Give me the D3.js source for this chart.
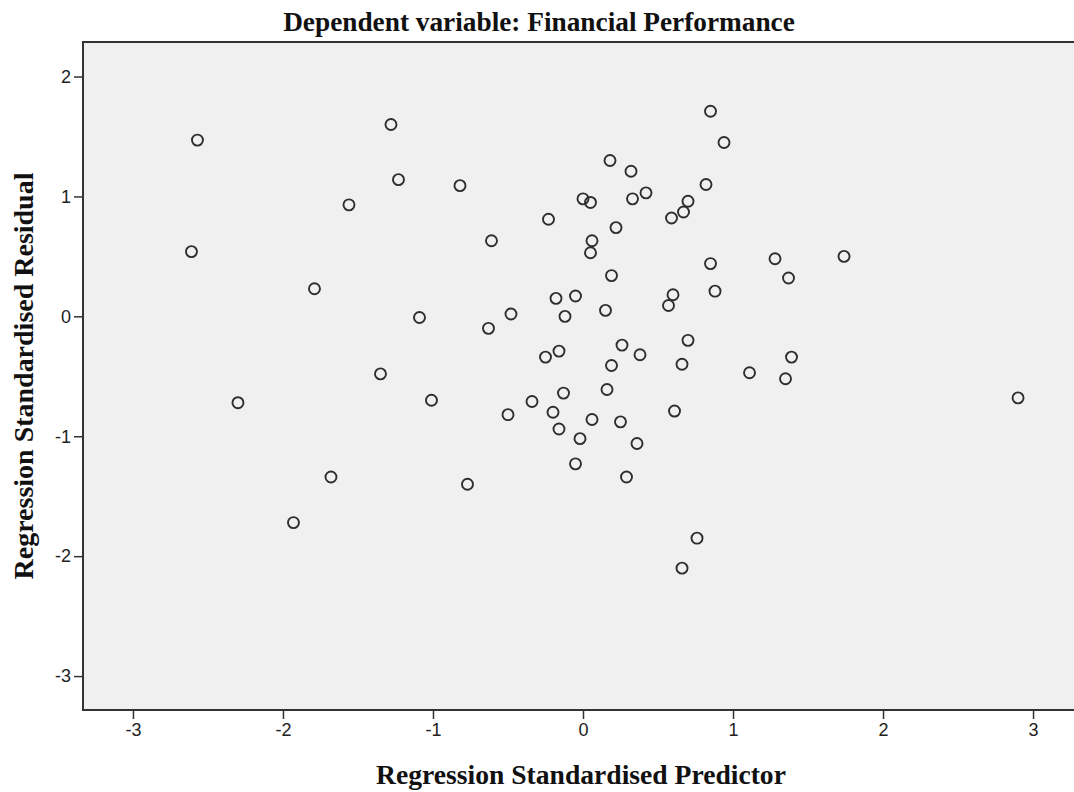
<!DOCTYPE html>
<html>
<head>
<meta charset="utf-8">
<script src="https://cdn.jsdelivr.net/npm/d3@7"></script>
<style>
    body { margin: 0; background: #fff; }
    .tick text { font-family: "Liberation Sans", Arial, sans-serif; font-size: 18px; fill: #222; }
    .tick line { stroke: #333; stroke-width: 1.5; }
    .chart-title, .axis-title { font-family: "Liberation Serif", "Times New Roman", serif; font-weight: bold; fill: #111; }
</style>
</head>
<body>
<div id="chart"></div>
<script>
// Regression standardised predictor (x) and residual (y) for each case
const predictorValues = [
    -2.57, -2.61, -2.30, -1.93, -1.79, -1.68, -1.56, -1.35, -1.28, -1.23,
    -1.09, -1.01, -0.82, -0.77, -0.61, -0.63, -0.48, -0.50, -0.34, -0.25,
    -0.23, -0.20, -0.18, -0.16, -0.16, -0.12, -0.13, -0.05, -0.05, -0.02,
    0.00, 0.05, 0.06, 0.05, 0.06, 0.15, 0.16, 0.18, 0.19, 0.19,
    0.22, 0.26, 0.25, 0.29, 0.32, 0.33, 0.36, 0.38, 0.42, 0.57,
    0.59, 0.60, 0.61, 0.67, 0.66, 0.66, 0.70, 0.70, 0.76, 0.82,
    0.85, 0.85, 0.88, 0.94, 1.11, 1.28, 1.35, 1.37, 1.39, 1.74,
    2.90
];
const residualValues = [
    1.47, 0.54, -0.72, -1.72, 0.23, -1.34, 0.93, -0.48, 1.60, 1.14,
    -0.01, -0.70, 1.09, -1.40, 0.63, -0.10, 0.02, -0.82, -0.71, -0.34,
    0.81, -0.80, 0.15, -0.29, -0.94, 0.00, -0.64, 0.17, -1.23, -1.02,
    0.98, 0.95, 0.63, 0.53, -0.86, 0.05, -0.61, 1.30, 0.34, -0.41,
    0.74, -0.24, -0.88, -1.34, 1.21, 0.98, -1.06, -0.32, 1.03, 0.09,
    0.82, 0.18, -0.79, 0.87, -0.40, -2.10, 0.96, -0.20, -1.85, 1.10,
    1.71, 0.44, 0.21, 1.45, -0.47, 0.48, -0.52, 0.32, -0.34, 0.50,
    -0.68
];
const xTickValues = [-3, -2, -1, 0, 1, 2, 3];
const yTickValues = [2, 1, 0, -1, -2, -3];
const chartTitle = 'Dependent variable: Financial Performance';
const xTitle = 'Regression Standardised Predictor';
const yTitle = 'Regression Standardised Residual';

class ResidualScatter {
    constructor(_config) {
        this.config = {
            parentElement: _config.parentElement,
            containerWidth: 1074,
            containerHeight: 792,
            margin: {top: 42, right: -9, bottom: 82, left: 83}
        }
        this.data = predictorValues.map((x, i) => ({x: x, y: residualValues[i]}));
        this.initVis();
    }

    initVis() {
        let vis = this;

        vis.width = vis.config.containerWidth - vis.config.margin.left - vis.config.margin.right;
        vis.height = vis.config.containerHeight - vis.config.margin.top - vis.config.margin.bottom;

        vis.svg = d3.select(vis.config.parentElement).append('svg')
            .attr('width', vis.config.containerWidth)
            .attr('height', vis.config.containerHeight);

        vis.chart = vis.svg.append('g')
            .attr('transform', `translate(${vis.config.margin.left},${vis.config.margin.top})`);

        // 150px per unit on x, 120px per unit on y (as in the SPSS output)
        vis.xScale = d3.scaleLinear()
            .domain([-3.333, 3.333])
            .range([0, vis.width]);

        vis.yScale = d3.scaleLinear()
            .domain([-3.283, 2.288])
            .range([vis.height, 0]);

        // SPSS prints a plain hyphen for negatives
        vis.xAxis = d3.axisBottom(vis.xScale)
            .tickValues(xTickValues)
            .tickSize(9)
            .tickPadding(4)
            .tickFormat(d => String(d));

        vis.yAxis = d3.axisLeft(vis.yScale)
            .tickValues(yTickValues)
            .tickSize(9)
            .tickPadding(3)
            .tickFormat(d => String(d));

        // Grey plot area
        vis.chart.append('rect')
            .attr('width', vis.width)
            .attr('height', vis.height)
            .attr('fill', '#f0f0f0');

        vis.xAxisG = vis.chart.append('g')
            .attr('class', 'axis x-axis')
            .attr('transform', `translate(0,${vis.height})`);

        vis.yAxisG = vis.chart.append('g')
            .attr('class', 'axis y-axis');

        // Frame around the plot area
        vis.chart.append('rect')
            .attr('width', vis.width)
            .attr('height', vis.height)
            .attr('fill', 'none')
            .attr('stroke', '#333')
            .attr('stroke-width', 2);

        vis.svg.append('text')
            .attr('class', 'chart-title')
            .attr('x', 539)
            .attr('y', 31)
            .attr('text-anchor', 'middle')
            .text(chartTitle);

        vis.svg.append('text')
            .attr('class', 'axis-title')
            .attr('x', 581)
            .attr('y', 784)
            .attr('text-anchor', 'middle')
            .text(xTitle);

        vis.svg.append('text')
            .attr('class', 'axis-title')
            .attr('transform', 'translate(33,376) rotate(-90)')
            .attr('text-anchor', 'middle')
            .text(yTitle);

        // Size serif titles to match their widths in the original
        fitText(vis.svg.select('.chart-title'), 512);
        vis.svg.selectAll('.axis-title').each(function (d, i) {
            fitText(d3.select(this), i === 0 ? 410 : 407);
        });

        vis.renderVis();
    }

    renderVis() {
        let vis = this;

        vis.chart.selectAll('.point')
            .data(vis.data)
            .join('circle')
            .attr('class', 'point')
            .attr('cx', d => vis.xScale(d.x))
            .attr('cy', d => vis.yScale(d.y))
            .attr('r', 5.5)
            .attr('fill', 'none')
            .attr('stroke', '#2e2e2e')
            .attr('stroke-width', 1.9);

        vis.xAxisG.call(vis.xAxis)
            .call(g => g.select('.domain').remove());

        vis.yAxisG.call(vis.yAxis)
            .call(g => g.select('.domain').remove());
    }
}

function fitText(sel, targetWidth) {
    sel.style('font-size', '20px');
    const w = sel.node().getComputedTextLength();
    sel.style('font-size', (20 * targetWidth / w) + 'px');
}

new ResidualScatter({parentElement: '#chart'});
</script>
</body>
</html>
